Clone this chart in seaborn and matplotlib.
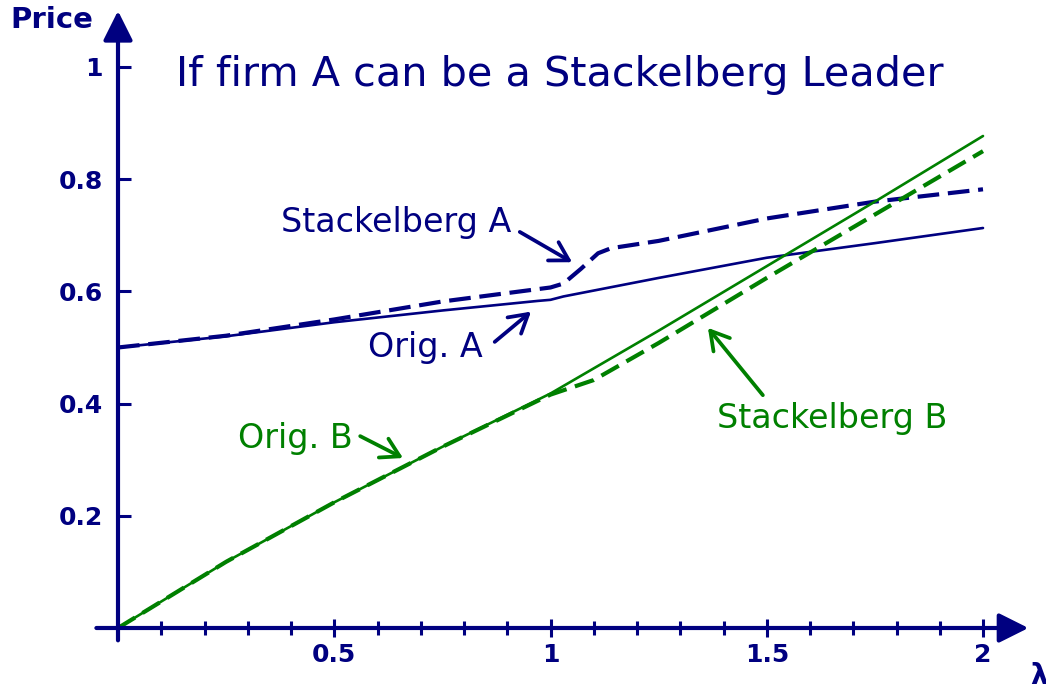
import numpy as np
import pandas as pd
import matplotlib
matplotlib.use("Agg")
import matplotlib.pyplot as plt
import seaborn as sns

# datos
lam_orig_a = [0, 0.25, 0.5, 0.75, 0.97, 1.0, 1.03, 1.25, 1.5, 1.75, 2.0]
price_orig_a = [0.5, 0.52, 0.545, 0.566, 0.583, 0.585, 0.591, 0.624, 0.66, 0.686, 0.713]

lam_stack_a = [0, 0.25, 0.5, 0.75, 1.0, 1.03, 1.07, 1.11, 1.14, 1.25, 1.5, 1.75, 2.0]
price_stack_a = [0.5, 0.521, 0.55, 0.582, 0.607, 0.614, 0.64, 0.668, 0.677, 0.69, 0.73, 0.76, 0.782]

lam_orig_b = [0, 0.25, 0.5, 0.75, 1.0, 1.25, 1.5, 1.75, 2.0]
price_orig_b = [0, 0.118, 0.224, 0.323, 0.418, 0.53, 0.645, 0.76, 0.877]

lam_stack_b = [0, 0.25, 0.5, 0.75, 1.0, 1.1, 1.25, 1.5, 1.75, 2.0]
price_stack_b = [0, 0.118, 0.224, 0.323, 0.416, 0.442, 0.508, 0.624, 0.737, 0.85]

x_major = [0.5, 1, 1.5, 2]
x_minor = [0.1, 0.2, 0.3, 0.4, 0.6, 0.7, 0.8, 0.9, 1.1, 1.2, 1.3, 1.4, 1.6, 1.7, 1.8, 1.9]
y_major = [0.2, 0.4, 0.6, 0.8, 1]
x_ticklabels = ["0.5", "1", "1.5", "2"]
y_ticklabels = ["0.2", "0.4", "0.6", "0.8", "1"]

navy = "#000080"
green = "#008000"

sns.set_theme(style="white")
plt.rcParams["font.family"] = ["DejaVu Sans"]

fig = plt.figure(figsize=(10.46, 6.89), dpi=100)
ax = fig.add_axes([0, 0, 1, 1])
ax.set_xlim(-118 / 432.5, (1046 - 118) / 432.5)
ax.set_ylim((628 - 689) / 561, 628 / 561)

df_oa = pd.DataFrame({"lam": lam_orig_a, "price": price_orig_a})
df_sa = pd.DataFrame({"lam": lam_stack_a, "price": price_stack_a})
df_ob = pd.DataFrame({"lam": lam_orig_b, "price": price_orig_b})
df_sb = pd.DataFrame({"lam": lam_stack_b, "price": price_stack_b})

sns.lineplot(data=df_oa, x="lam", y="price", ax=ax, color=navy, lw=1.9, estimator=None, sort=False)
sns.lineplot(data=df_sa, x="lam", y="price", ax=ax, color=navy, lw=3.0, estimator=None, sort=False,
             dashes=False).lines[-1].set_dashes((5.2, 2.1))
sns.lineplot(data=df_ob, x="lam", y="price", ax=ax, color=green, lw=1.9, estimator=None, sort=False)
sns.lineplot(data=df_sb, x="lam", y="price", ax=ax, color=green, lw=3.0, estimator=None, sort=False,
             dashes=False).lines[-1].set_dashes((4.8, 2.1))

# ejes con flechas
for s in ["top", "right"]:
    ax.spines[s].set_visible(False)
ax.spines["bottom"].set_position(("data", 0))
ax.spines["left"].set_position(("data", 0))
ax.spines["bottom"].set_color("none")
ax.spines["left"].set_color("none")
ax.annotate("", xy=(2.105, 0), xytext=(-0.05, 0),
            arrowprops=dict(arrowstyle="-|>,head_length=0.9,head_width=0.45", color=navy, lw=3,
                            mutation_scale=20, shrinkA=0, shrinkB=0))
ax.annotate("", xy=(0, 1.10), xytext=(0, -0.022),
            arrowprops=dict(arrowstyle="-|>,head_length=0.9,head_width=0.45", color=navy, lw=3,
                            mutation_scale=20, shrinkA=0, shrinkB=0))

ax.set_xticks(x_major)
ax.set_xticklabels(x_ticklabels)
ax.set_xticks(x_minor, minor=True)
ax.set_yticks(y_major)
ax.set_yticklabels(y_ticklabels)
ax.tick_params(axis="x", which="major", direction="inout", length=13, width=2.2, color=navy,
               labelsize=18, labelcolor=navy, pad=4, bottom=True)
ax.tick_params(axis="x", which="minor", direction="inout", length=10, width=2.2, color=navy, bottom=True)
ax.tick_params(axis="y", which="major", direction="in", length=9, width=2.2, color=navy,
               labelsize=18, labelcolor=navy, pad=11, left=True)
for lab in ax.get_xticklabels() + ax.get_yticklabels():
    lab.set_fontweight("bold")
ax.set_xlabel("")
ax.set_ylabel("")
ax.grid(False)

fig.text(52 / 1046, 1 - 20 / 689, "Price", ha="center", va="center", fontsize=21,
         fontweight="bold", color=navy)
fig.text(1030 / 1046, 1 - 662 / 689, "λ", ha="left", va="top", fontsize=20,
         fontweight="bold", color=navy)
fig.text(560 / 1046, 1 - 75 / 689, "If firm A can be a Stackelberg Leader", ha="center",
         va="center", fontsize=29.8, color=navy)

arrow_kw = dict(arrowstyle="->,head_length=0.65,head_width=0.38", lw=2.7, mutation_scale=20,
                shrinkA=0, shrinkB=0)
ax.annotate("", xy=(1.05, 0.652), xytext=(0.929, 0.706), arrowprops=dict(color=navy, **arrow_kw))
ax.text(0.643, 0.722, "Stackelberg A", ha="center", va="center", fontsize=24, color=navy)
ax.annotate("", xy=(0.955, 0.564), xytext=(0.871, 0.51), arrowprops=dict(color=navy, **arrow_kw))
ax.text(0.71, 0.5, "Orig. A", ha="center", va="center", fontsize=24, color=navy)
ax.annotate("", xy=(0.659, 0.303), xytext=(0.56, 0.342), arrowprops=dict(color=green, **arrow_kw))
ax.text(0.409, 0.337, "Orig. B", ha="center", va="center", fontsize=24, color=green)
ax.annotate("", xy=(1.364, 0.535), xytext=(1.491, 0.415), arrowprops=dict(color=green, **arrow_kw))
ax.text(1.651, 0.374, "Stackelberg B", ha="center", va="center", fontsize=24, color=green)

fig.savefig("out.png", dpi=100)
